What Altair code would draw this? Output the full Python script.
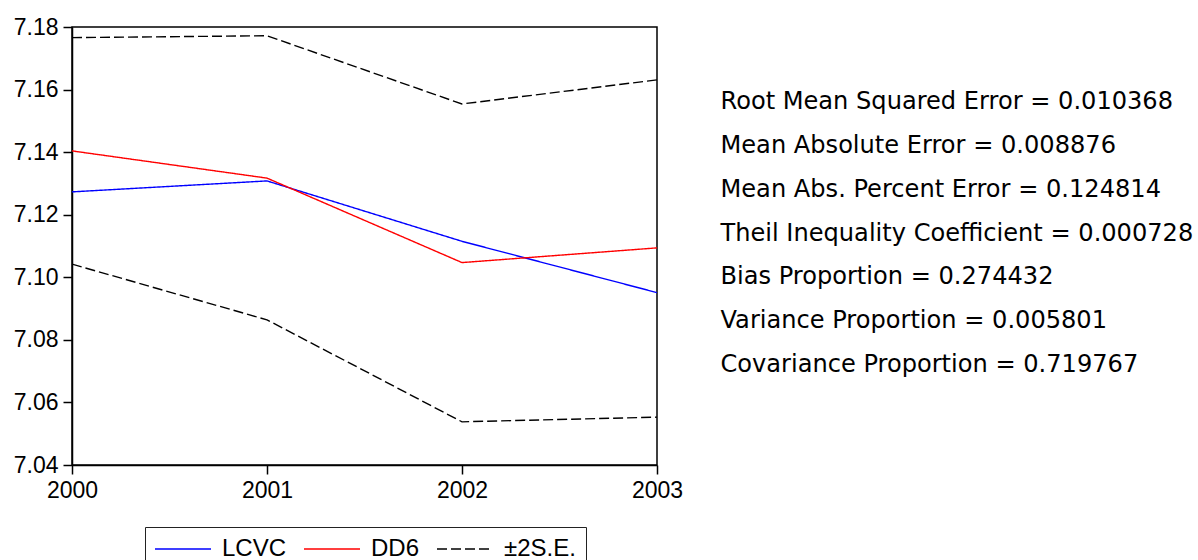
import altair as alt
import pandas as pd

# ---- data ----
years = [2000, 2001, 2002, 2003]
lcvc = [7.1273, 7.1308, 7.1115, 7.0951]
dd6 = [7.1404, 7.1317, 7.1047, 7.1094]
se_upper = [7.1766, 7.1772, 7.1554, 7.1631]
se_lower = [7.1042, 7.0864, 7.0538, 7.0553]

series_names = ["LCVC", "DD6", "\u00b12S.E."]
series_colors = ["#0000ff", "#ff0000", "#000000"]
series_dash = [[1, 0], [1, 0], [10, 4]]

y_ticks = [7.04, 7.06, 7.08, 7.10, 7.12, 7.14, 7.16, 7.18]

stat_names = [
    "Root Mean Squared Error",
    "Mean Absolute Error",
    "Mean Abs. Percent Error",
    "Theil Inequality Coefficient",
    "Bias Proportion",
    "Variance Proportion",
    "Covariance Proportion",
]
stat_values = ["0.010368", "0.008876", "0.124814", "0.000728",
               "0.274432", "0.005801", "0.719767"]

rows = []
for yr, v in zip(years, lcvc):
    rows.append(dict(year=yr, value=v, series="LCVC", line="LCVC"))
for yr, v in zip(years, dd6):
    rows.append(dict(year=yr, value=v, series="DD6", line="DD6"))
for yr, v in zip(years, se_upper):
    rows.append(dict(year=yr, value=v, series="\u00b12S.E.", line="upper"))
for yr, v in zip(years, se_lower):
    rows.append(dict(year=yr, value=v, series="\u00b12S.E.", line="lower"))
df = pd.DataFrame(rows)

W, H = 585, 438
PL, PT = 72, 27

legend = alt.Legend(
    title=None,
    orient="none",
    legendX=73,
    legendY=500,
    direction="horizontal",
    strokeColor="#222222",
    padding=10,
    labelFont="Liberation Sans",
    labelFontSize=24,
    labelColor="black",
    symbolType="M-3.5,0H3.5",
    symbolSize=256,
    symbolStrokeWidth=1.5,
    symbolOffset=16,
    labelOffset=27,
    columnPadding=14,
)

lines = alt.Chart(df).mark_line(strokeWidth=1.4, clip=True).encode(
    x=alt.X("year:Q",
            scale=alt.Scale(domain=[2000, 2003], nice=False, zero=False),
            axis=alt.Axis(values=years, format="d", title=None, labelFlush=False)),
    y=alt.Y("value:Q",
            scale=alt.Scale(domain=[7.04, 7.18], nice=False, zero=False),
            axis=alt.Axis(values=y_ticks, format=".2f", title=None, labelFlush=False)),
    color=alt.Color("series:N",
                    scale=alt.Scale(domain=series_names, range=series_colors),
                    legend=legend),
    strokeDash=alt.StrokeDash("series:N",
                              scale=alt.Scale(domain=series_names, range=series_dash),
                              legend=legend),
    detail="line:N",
)

stats_text = "\n".join(f"{n} = {v}" for n, v in zip(stat_names, stat_values))
txt = alt.Chart(pd.DataFrame({"t": [stats_text]})).mark_text(
    align="left", baseline="alphabetic", font="DejaVu Sans", fontSize=24.1,
    lineBreak="\n", lineHeight=43.8, color="black"
).encode(x=alt.value(648.5), y=alt.value(82.3), text="t:N")

chart = alt.layer(lines, txt).properties(
    width=W, height=H,
    autosize=alt.AutoSizeParams(type="none"),
    padding={"left": PL, "top": PT, "right": 1198 - PL - W, "bottom": 560 - PT - H},
    background="white",
).configure_view(
    stroke="black", strokeWidth=1.5
).configure_axis(
    grid=False,
    domainColor="black", domainWidth=1.5,
    tickColor="black", tickSize=9, tickWidth=1.5,
    labelFont="Liberation Sans", labelFontSize=23, labelColor="black",
    labelPadding=5,
)

chart.save("out.html", embed_options={"renderer": "svg", "actions": False})
